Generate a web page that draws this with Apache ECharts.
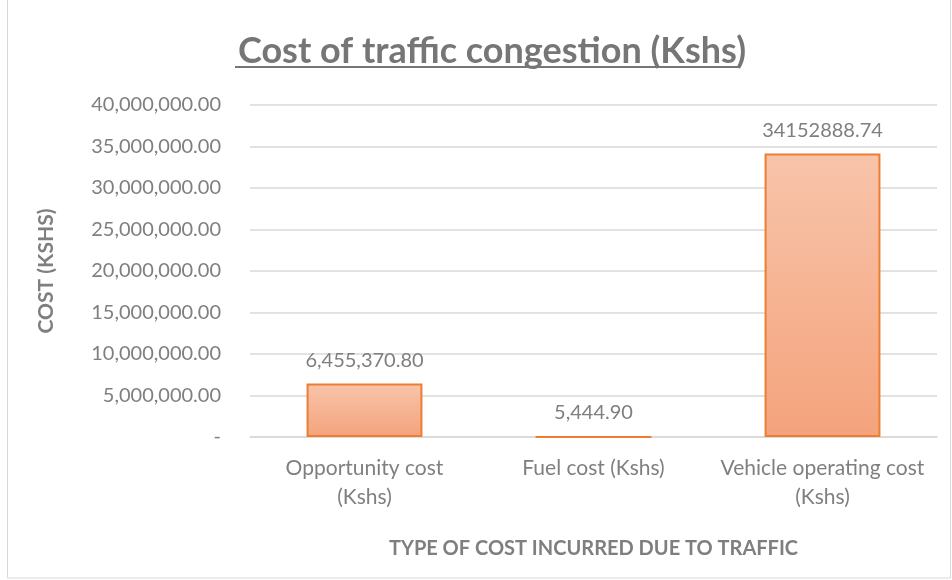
<!DOCTYPE html>
<html style="height: 100%">
<head>
    <meta charset="utf-8" />
    <title>Cost of traffic congestion</title>
    <script type="text/javascript" src="https://cdn.jsdelivr.net/npm/echarts@6/dist/echarts.min.js"></script>
</head>
<body style="height: 100%; margin: 0; background: #fff">
<div id="Chart" style="width: 952px; height: 580px"></div>
<script type="text/javascript">
      // categories and values
      var categories = ["Opportunity cost\n(Kshs)", "Fuel cost (Kshs)", "Vehicle operating cost\n(Kshs)"];
      var costs = [6455370.80, 5444.90, 34152888.74];
      var plainLabel = [false, false, true]; // last label has no thousands separators
      var yMin = 0, yMax = 40000000, yStep = 5000000;

      var gray = "#7f7f7f";
      var font = "Lato, 'Liberation Sans', sans-serif";

      function money(v) {
        return v.toLocaleString("en-US", { minimumFractionDigits: 2, maximumFractionDigits: 2 });
      }

      var myChart = echarts.init(document.getElementById("Chart"));
      var option = {
        backgroundColor: "#fff",
        textStyle: { fontFamily: font },
        title: {
          text: "Cost of traffic congestion (Kshs)",
          left: 487,
          top: 28,
          textAlign: "center",
          textStyle: { color: "#767676", fontSize: 36, fontWeight: "bold", fontFamily: font }
        },
        graphic: [
          { type: "rect", shape: { x: 7.5, y: -2, width: 943, height: 580 },
            style: { fill: "none", stroke: "#d9d9d9", lineWidth: 1 }, silent: true },
          { type: "line", shape: { x1: 235, y1: 67, x2: 740, y2: 67 },
            style: { stroke: "#767676", lineWidth: 2 }, silent: true }
        ],
        grid: { left: 250, right: 15, top: 105, bottom: 143 },
        xAxis: {
          type: "category",
          data: categories,
          name: "TYPE OF COST INCURRED DUE TO TRAFFIC",
          nameLocation: "middle",
          nameGap: 102,
          nameTextStyle: { color: gray, fontSize: 20, fontWeight: "bold" },
          axisLine: { show: true, lineStyle: { color: "#d9d9d9", width: 1.5 } },
          axisTick: { show: false },
          axisLabel: { color: gray, fontSize: 21, lineHeight: 29, margin: 17, interval: 0 }
        },
        yAxis: {
          type: "value",
          min: yMin,
          max: yMax,
          interval: yStep,
          name: "COST (KSHS)",
          nameLocation: "middle",
          nameGap: 193,
          nameTextStyle: { color: gray, fontSize: 21, fontWeight: "bold" },
          axisLine: { show: false },
          axisTick: { show: false },
          splitLine: { lineStyle: { color: "#d9d9d9", width: 1.5 } },
          axisLabel: {
            color: gray, fontSize: 20, margin: 29,
            formatter: function (v) { return v === 0 ? "-" : money(v); }
          }
        },
        series: [
          {
            type: "bar",
            data: costs,
            barWidth: "50.6%",
            itemStyle: {
              color: new echarts.graphic.LinearGradient(0, 0, 0, 1, [
                { offset: 0, color: "#f8c4aa" },
                { offset: 1, color: "#f4a37c" }
              ]),
              borderColor: "#ed7d31",
              borderWidth: 2
            },
            label: {
              show: true,
              position: "top",
              distance: 13,
              color: gray,
              fontSize: 20,
              formatter: function (p) {
                return plainLabel[p.dataIndex] ? p.value.toFixed(2) : money(p.value);
              }
            }
          }
        ]
      };
      myChart.setOption(option);
    </script>
</body>
</html>
